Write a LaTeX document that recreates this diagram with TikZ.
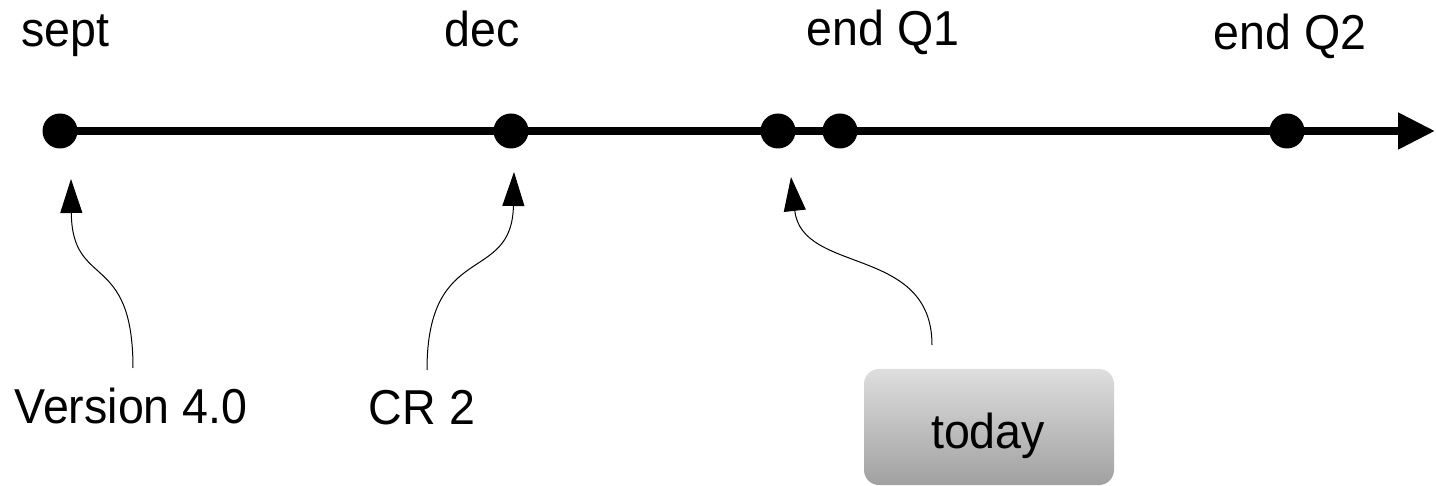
\documentclass[tikz,border=0pt]{standalone}
\usepackage{fontspec}
\setmainfont{Liberation Sans}
\usetikzlibrary{arrows.meta,shadings}
\begin{document}
\begin{tikzpicture}[x=0.5pt,y=-0.5pt,
  dot/.style={circle,fill=black,inner sep=0pt,minimum size=17.5pt},
  lbl/.style={anchor=base,inner sep=0pt,xscale=0.95,font=\fontsize{24.5}{28}\selectfont},
  axis/.style={line width=4pt,-{Triangle[length=18.5pt,width=17.5pt]}},
  pointer/.style={line width=0.5pt,-{Triangle[length=17pt,width=11pt]}},
  todaybox/.style={rounded corners=7.5pt,top color=black!13,bottom color=black!37,
    minimum width=125pt,minimum height=58pt,inner sep=0pt}]
\useasboundingbox (0,0) rectangle (1436,486);
% axis
\coordinate (axend) at (1435,131);
\coordinate (axstart) at (60,131);
\draw[axis] (axstart) -- (axend);
\node[dot] (d1) at (60,131) {};
\node[dot] (d2) at (511,131) {};
\node[dot] (d3) at (778,131) {};
\node[dot] (d4) at (840,131) {};
\node[dot] (d5) at (1287,131) {};
% top labels
\node[lbl] (lsept) at (65,47) {sept};
\node[lbl] (ldec) at (482,47) {dec};
\node[lbl] (lq1) at (883,46) {end Q1};
\node[lbl] (lq2) at (1290,50) {end Q2};
% bottom labels
\node[lbl] (lver) at (131,423) {Version 4.0};
\node[lbl] (lcr) at (422,424) {CR 2};
\node[todaybox] (today) at (989,427) {};
\node[lbl] (ltoday) at (988,448) {today};
% pointers
\coordinate (s1) at (133,368);
\coordinate (t1) at (71,179);
\coordinate (s2) at (427,370);
\coordinate (t2) at (514,172);
\coordinate (s3) at (932,345);
\coordinate (t3) at (791,177);
\draw[pointer] (s1) .. controls (133,250) and (72,290) .. (t1);
\draw[pointer] (s2) .. controls (427,240) and (512,285) .. (t2);
\draw[pointer] (s3) .. controls (932,245) and (802,275) .. (t3);
\end{tikzpicture}
\end{document}
